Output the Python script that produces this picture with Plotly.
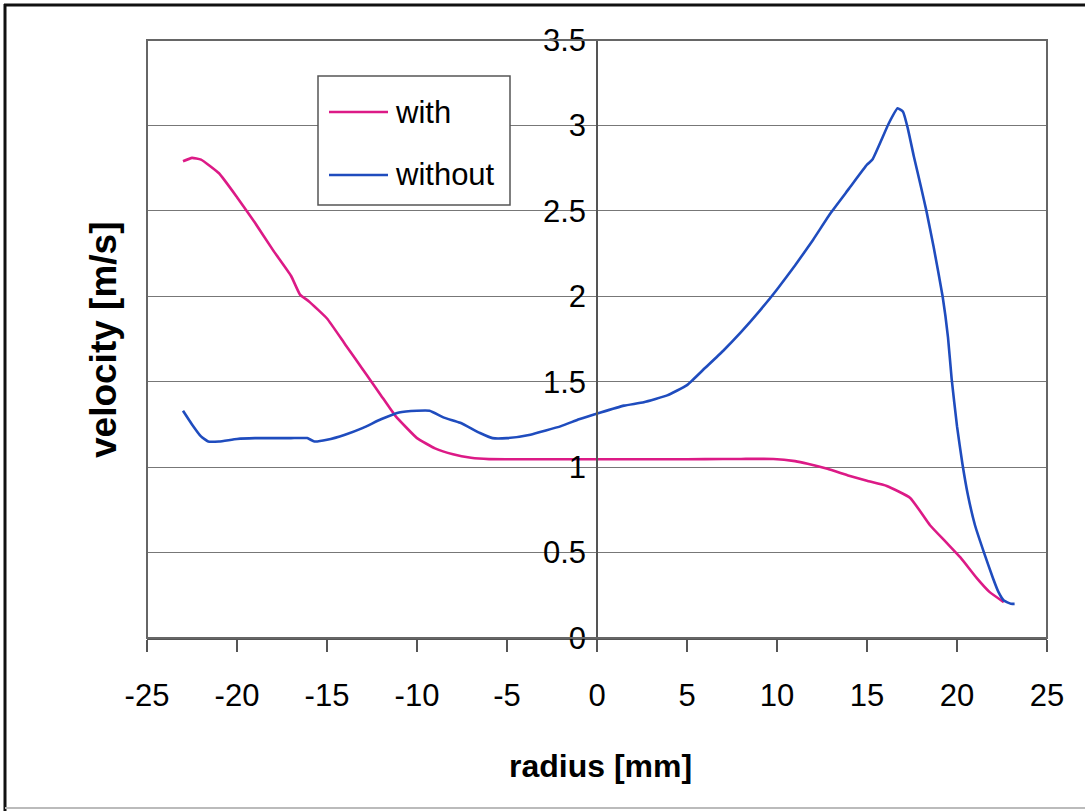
import plotly.graph_objects as go

# Radial velocity profiles, with and without the insert
radius_with = [-23, -22.5, -22, -21, -20, -19, -18, -17, -16.5, -16, -15, -14, -13,
               -12.6, -12, -11.2, -10, -9, -8, -7, -6, -4, -2, 0, 2, 4, 6, 8, 9.8,
               11, 11.7, 12.8, 14, 15, 16.1, 17.4, 18.5, 19.4, 20.2, 21.1, 21.8, 22.6]
velocity_with = [2.79, 2.81, 2.80, 2.72, 2.58, 2.43, 2.27, 2.12, 2.01, 1.97, 1.87, 1.72, 1.57,
                 1.51, 1.42, 1.30, 1.17, 1.11, 1.075, 1.055, 1.047, 1.046, 1.046, 1.046, 1.046,
                 1.046, 1.047, 1.048, 1.048, 1.035, 1.02, 0.99, 0.95, 0.92, 0.89, 0.82, 0.66,
                 0.56, 0.47, 0.35, 0.27, 0.21]

radius_without = [-23, -22.5, -22, -21.6, -21, -20, -19, -18, -17, -16.1, -15.7, -15, -14,
                  -13, -12, -11, -10, -9.3, -8.5, -7.6, -6.5, -5.8, -5, -3.7, -2, -1, 0.2,
                  1.5, 2.6, 3.9, 5, 6, 7, 8, 9, 10, 11, 12, 13, 14, 15, 15.3, 16.2, 16.7,
                  17.0, 17.25, 17.6, 18.0, 18.3, 18.7, 19.2, 19.5, 19.7, 20.0, 20.3, 20.6,
                  21.0, 21.5, 22.0, 22.3, 22.6, 23.0, 23.2]
velocity_without = [1.33, 1.25, 1.18, 1.15, 1.15, 1.165, 1.17, 1.17, 1.17, 1.17, 1.15, 1.16,
                    1.19, 1.23, 1.28, 1.32, 1.33, 1.33, 1.29, 1.26, 1.20, 1.17, 1.17, 1.19,
                    1.24, 1.28, 1.32, 1.36, 1.38, 1.42, 1.48, 1.58, 1.68, 1.79, 1.91, 2.04,
                    2.18, 2.33, 2.49, 2.63, 2.77, 2.80, 3.01, 3.10, 3.08, 2.99, 2.82, 2.64,
                    2.50, 2.29, 2.00, 1.76, 1.52, 1.24, 1.02, 0.84, 0.66, 0.50, 0.35, 0.27,
                    0.22, 0.20, 0.20]

series_names = ["with", "without"]
series_colors = ["#DC1A86", "#1F4CBE"]

x_ticks = [-25, -20, -15, -10, -5, 0, 5, 10, 15, 20, 25]
x_tick_text = ["-25", "-20", "-15", "-10", "-5", "0", "5", "10", "15", "20", "25"]
y_ticks = [0, 0.5, 1, 1.5, 2, 2.5, 3, 3.5]
y_tick_text = ["0", "0.5", "1", "1.5", "2", "2.5", "3", "3.5"]

FONT = "Liberation Sans, Arial, sans-serif"
GRID = "#777777"

fig = go.Figure()
for xs, ys, name, color in [(radius_with, velocity_with, series_names[0], series_colors[0]),
                            (radius_without, velocity_without, series_names[1], series_colors[1])]:
    fig.add_trace(go.Scatter(x=xs, y=ys, mode="lines", name=name,
                             line=dict(color=color, width=2.6, shape="spline", smoothing=0.4),
                             showlegend=False))

L, R, T, B = 147, 38, 40, 173
W, H = 1085, 811
pw, ph = W - L - R, H - T - B


def px_x(px):
    return (px - L) / pw


def px_y(py):
    return (H - B - py) / ph


shapes = [
    # plot area border
    dict(type="rect", xref="paper", yref="paper", x0=0, y0=0, x1=1, y1=1,
         line=dict(color="#666666", width=2), layer="above"),
    # outer frame
    dict(type="line", xref="paper", yref="paper", x0=px_x(5), x1=px_x(5),
         y0=px_y(4), y1=px_y(811), line=dict(color="#111111", width=3)),
    dict(type="line", xref="paper", yref="paper", x0=px_x(4), x1=px_x(1090),
         y0=px_y(5), y1=px_y(5), line=dict(color="#111111", width=3)),
    dict(type="line", xref="paper", yref="paper", x0=px_x(5), x1=px_x(1090),
         y0=px_y(808), y1=px_y(808), line=dict(color="#BBBBBB", width=2)),
    # legend box
    dict(type="rect", xref="paper", yref="paper", x0=px_x(318), x1=px_x(510),
         y0=px_y(205), y1=px_y(76), fillcolor="white",
         line=dict(color="#555555", width=1.5), layer="above"),
]
annotations = []
for i, (name, color) in enumerate(zip(series_names, series_colors)):
    yy = [112, 175][i]
    shapes.append(dict(type="line", xref="paper", yref="paper", x0=px_x(329), x1=px_x(388),
                       y0=px_y(yy), y1=px_y(yy), line=dict(color=color, width=2.6),
                       layer="above"))
    annotations.append(dict(text=name, xref="paper", yref="paper", x=px_x(393), y=px_y(yy),
                            xanchor="left", yanchor="middle", showarrow=False,
                            font=dict(family=FONT, size=31, color="black")))

annotations.append(dict(text="<b>velocity [m/s]</b>", xref="paper", yref="paper",
                        x=px_x(103), y=px_y(340), textangle=-90, showarrow=False,
                        xanchor="center", yanchor="middle",
                        font=dict(family=FONT, size=37, color="black")))
annotations.append(dict(text="<b>radius [mm]</b>", xref="paper", yref="paper",
                        x=px_x(600), y=px_y(766), showarrow=False,
                        xanchor="center", yanchor="middle",
                        font=dict(family=FONT, size=32, color="black")))

fig.update_layout(
    width=W, height=H,
    margin=dict(l=L, r=R, t=T, b=B),
    paper_bgcolor="white", plot_bgcolor="white",
    shapes=shapes, annotations=annotations,
    xaxis=dict(range=[-25, 25], tickvals=x_ticks, ticktext=x_tick_text,
               showgrid=False, zeroline=False,
               showline=True, linecolor="#555555", linewidth=2,
               ticks="outside", ticklen=12, tickwidth=1.5, tickcolor="#555555",
               ticklabelstandoff=17,
               tickfont=dict(family=FONT, size=31, color="black")),
    yaxis=dict(range=[0, 3.5], tickvals=y_ticks, ticktext=y_tick_text,
               anchor="free", position=0.5, side="left",
               showgrid=True, gridcolor=GRID, gridwidth=1.3, zeroline=False,
               showline=True, linecolor="#555555", linewidth=1.5,
               ticks="", ticklabelstandoff=4,
               tickfont=dict(family=FONT, size=31, color="black")),
)

fig.write_html("out.html")
